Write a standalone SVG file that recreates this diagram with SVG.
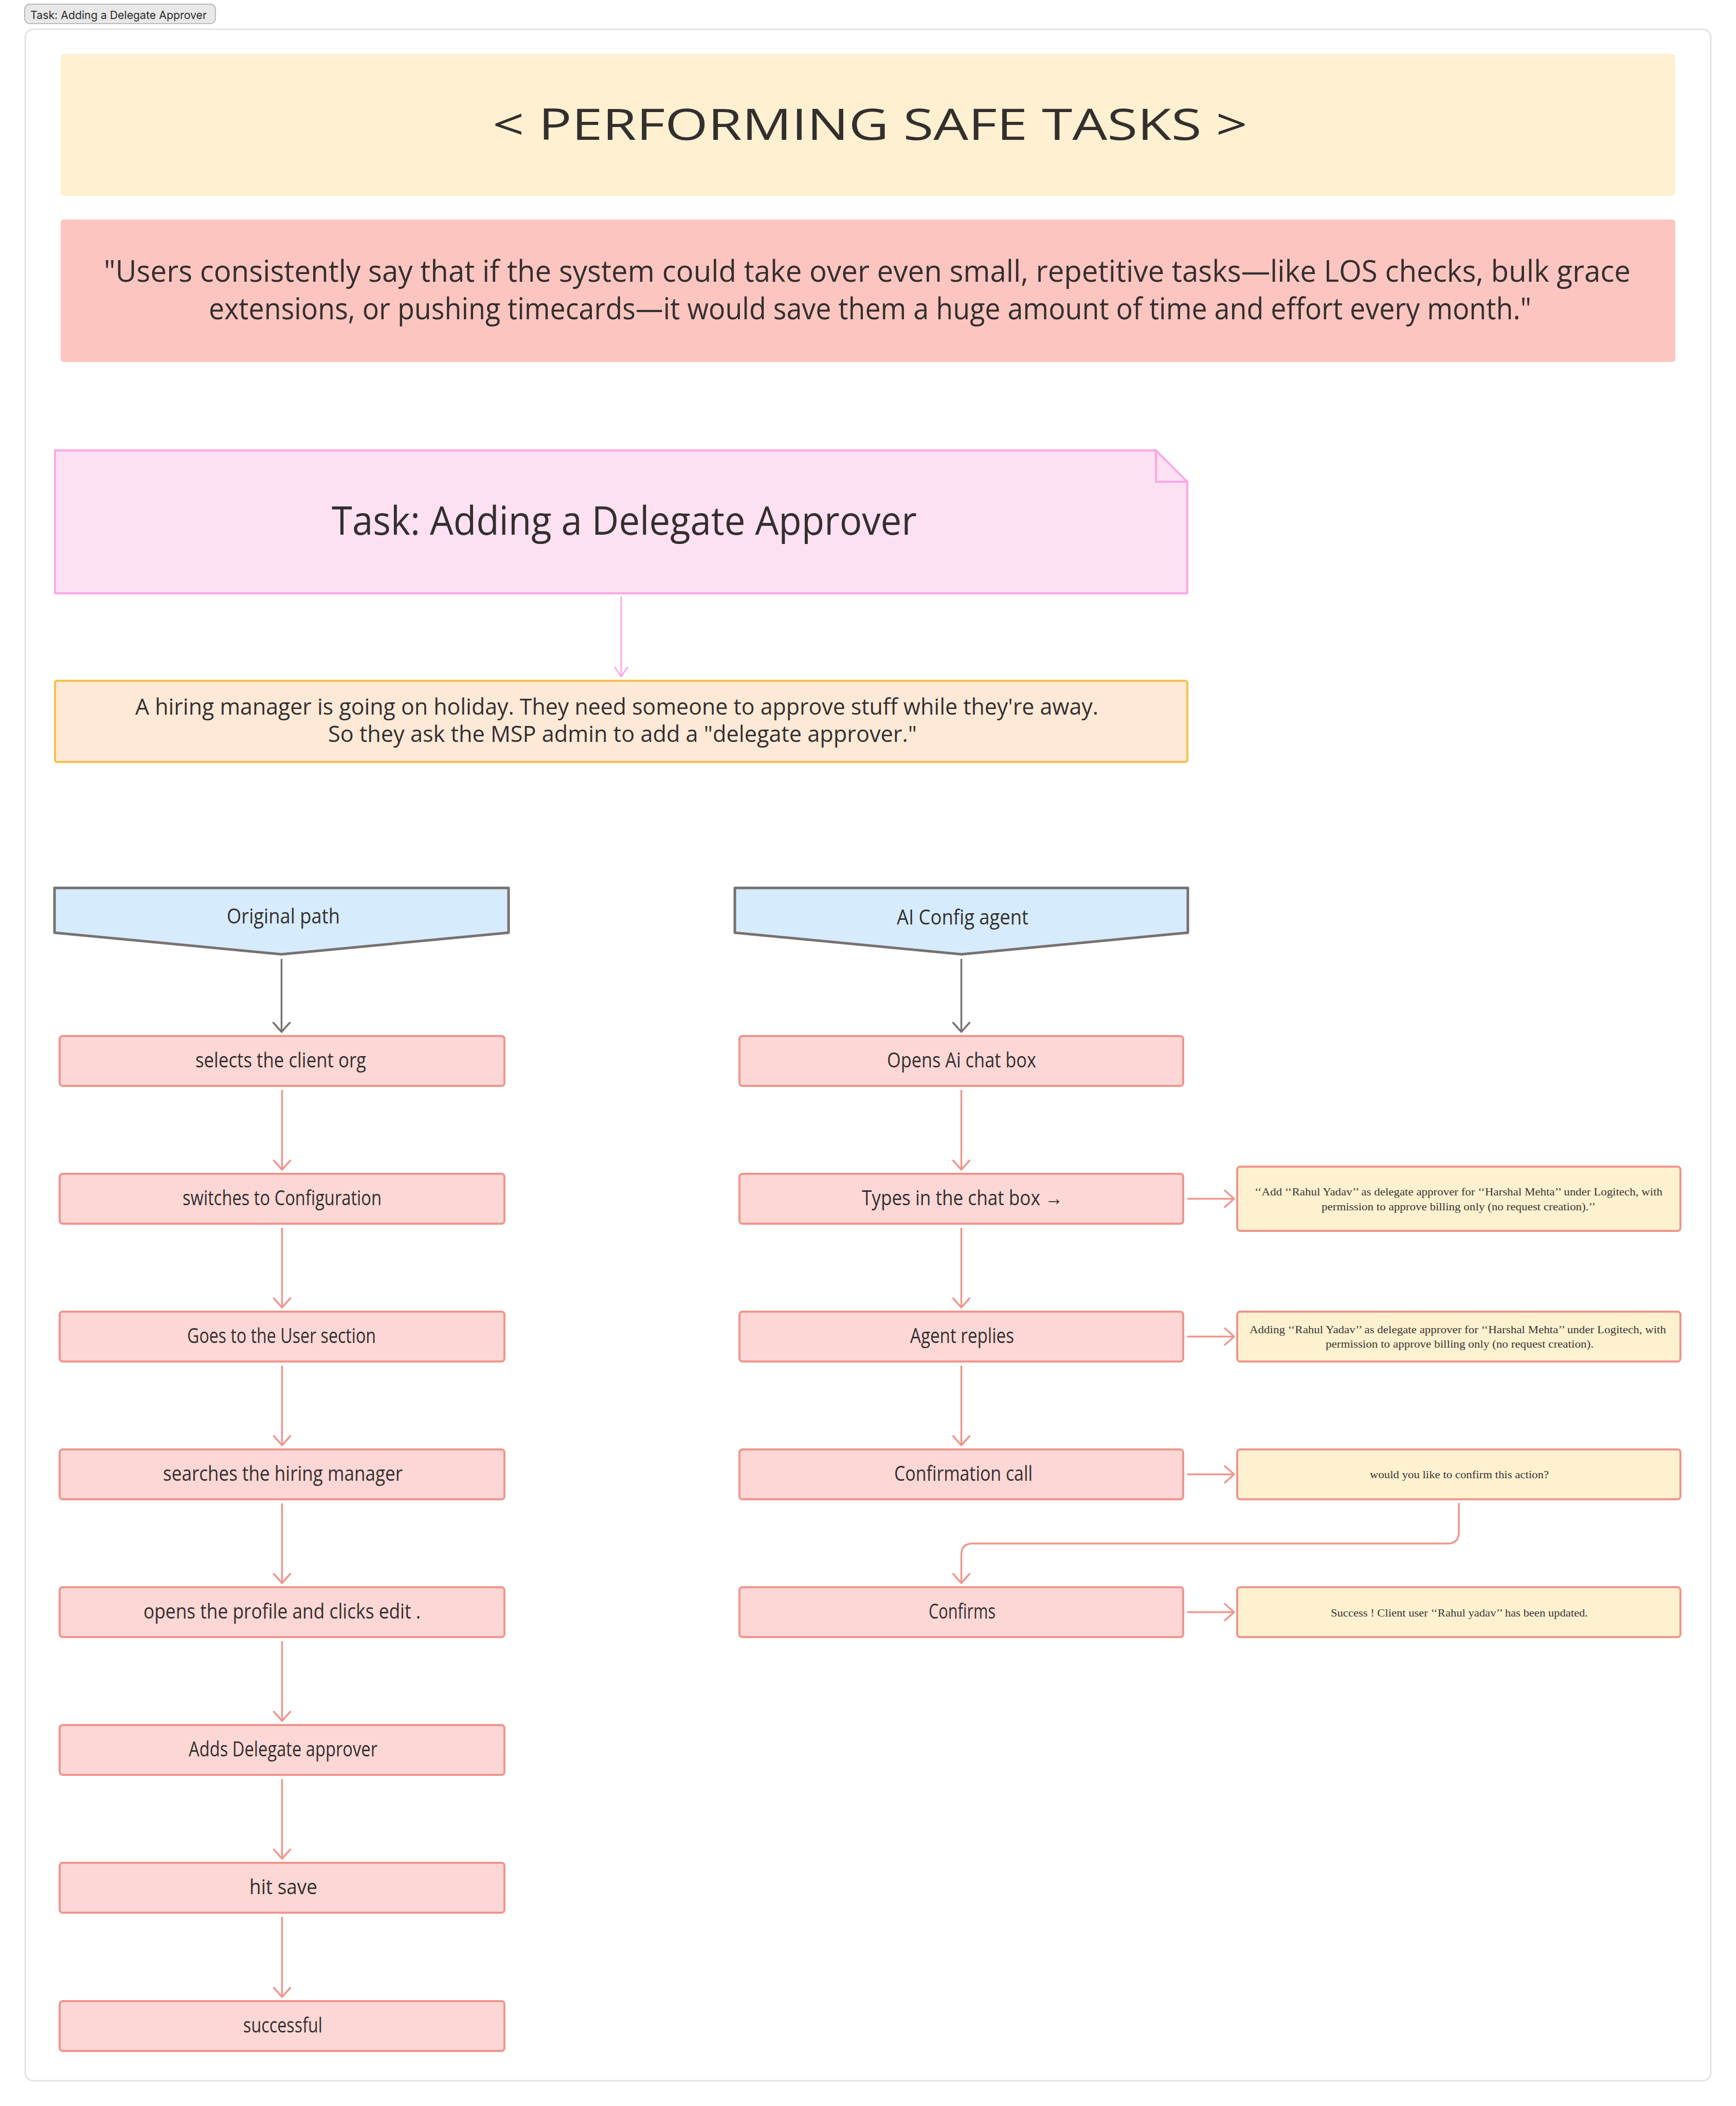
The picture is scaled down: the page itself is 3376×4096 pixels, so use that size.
<svg xmlns="http://www.w3.org/2000/svg" width="3376" height="4096" viewBox="0 0 3376 4096">
<style>
.hand{font-family:"Open Sans","Noto Sans",sans-serif;fill:#332f2e;}
.lbl{font-size:40px;}
.ser{font-family:"Liberation Serif","DejaVu Serif",serif;font-size:21px;fill:#3a3432;}
.step{fill:#fdd7d6;stroke:#ef958c;stroke-width:4;}
.det{fill:#fef1d0;stroke:#ef958c;stroke-width:4;}
.hdr{fill:#d6ebfd;stroke:#77716f;stroke-width:5;stroke-linejoin:round;}
.ca{fill:none;stroke:#ef958c;stroke-width:3.5;marker-end:url(#ma);}
.cg{fill:none;stroke:#77716f;stroke-width:3.5;marker-end:url(#mg);}
.cp{fill:none;stroke:#fba8e6;stroke-width:3;marker-end:url(#mp);}
</style>
<defs>
<marker id="ma" markerUnits="userSpaceOnUse" markerWidth="40" markerHeight="40" viewBox="-20 -20 40 40" refX="0" refY="0" orient="auto"><path d="M-18,-16 L0,0 L-18,16" fill="none" stroke="#ef958c" stroke-width="3.5" stroke-linecap="round" stroke-linejoin="round"/></marker>
<marker id="mg" markerUnits="userSpaceOnUse" markerWidth="40" markerHeight="40" viewBox="-20 -20 40 40" refX="0" refY="0" orient="auto"><path d="M-18,-16 L0,0 L-18,16" fill="none" stroke="#77716f" stroke-width="3.5" stroke-linecap="round" stroke-linejoin="round"/></marker>
<marker id="mp" markerUnits="userSpaceOnUse" markerWidth="40" markerHeight="40" viewBox="-20 -20 40 40" refX="0" refY="0" orient="auto"><path d="M-18,-12 L0,0 L-18,12" fill="none" stroke="#fba8e6" stroke-width="3" stroke-linecap="round" stroke-linejoin="round"/></marker>
</defs>
<rect width="3376" height="4096" fill="#ffffff"/>
<g id="frame">
<rect x="49" y="57" width="3278" height="3990" rx="16" fill="#ffffff" stroke="#e3e3e3" stroke-width="3"/>
</g>
<g id="tab">
<rect x="48" y="8" width="371" height="38" rx="10" fill="#e8e8e8" stroke="#a8a8a8" stroke-width="1.5"/>
<text x="59" y="37" font-family="Inter,'Liberation Sans',sans-serif" font-size="22" fill="#2e2a2a" textLength="343" lengthAdjust="spacingAndGlyphs">Task: Adding a Delegate Approver</text>
</g>
<g id="title">
<rect x="118" y="105" width="3140" height="276" rx="6" fill="#fef0d0"/>
<text class="hand" x="958" y="272" font-size="84" textLength="1468" lengthAdjust="spacingAndGlyphs">&lt; PERFORMING SAFE TASKS &gt;</text>
</g>
<g id="quote">
<rect x="118" y="427" width="3140" height="277" rx="6" fill="#fdc5c0"/>
<text class="hand" x="202" y="548" font-size="58" textLength="2969" lengthAdjust="spacingAndGlyphs">"Users consistently say that if the system could take over even small, repetitive tasks—like LOS checks, bulk grace</text>
<text class="hand" x="406" y="621" font-size="58" textLength="2572" lengthAdjust="spacingAndGlyphs">extensions, or pushing timecards—it would save them a huge amount of time and effort every month."</text>
</g>
<g id="task-note">
<path d="M107,876 H2248 L2309,937 V1154 H107 Z" fill="#fee0f3" stroke="#fba8e6" stroke-width="4" stroke-linejoin="round"/>
<path d="M2248,876 V937 H2309" fill="none" stroke="#fba8e6" stroke-width="4" stroke-linejoin="round"/>
<text class="hand" x="645" y="1040" font-size="76" textLength="1138" lengthAdjust="spacingAndGlyphs">Task: Adding a Delegate Approver</text>
</g>
<g id="scenario">
<rect x="107" y="1324" width="2202" height="158" rx="4" fill="#fee9d7" stroke="#f6c04f" stroke-width="4"/>
<text class="hand" x="263" y="1390" font-size="44" textLength="1873" lengthAdjust="spacingAndGlyphs">A hiring manager is going on holiday. They need someone to approve stuff while they're away.</text>
<text class="hand" x="638" y="1443" font-size="44" textLength="1145" lengthAdjust="spacingAndGlyphs">So they ask the MSP admin to add a "delegate approver."</text>
</g>
<g id="hdr-original">
<path class="hdr" d="M106,1727 H989 V1814 L547.5,1856 L106,1814 Z"/>
<text class="hand lbl" x="441" y="1796" textLength="220" lengthAdjust="spacingAndGlyphs">Original path</text>
</g>
<g id="hdr-ai">
<path class="hdr" d="M1429,1727 H2310 V1814 L1869.5,1856 L1429,1814 Z"/>
<text class="hand lbl" x="1744" y="1798" textLength="256" lengthAdjust="spacingAndGlyphs">AI Config agent</text>
</g>
<g id="l1"><rect class="step" x="116" y="2015" width="865" height="97" rx="6"/><text class="hand lbl" x="380" y="2076" textLength="332" lengthAdjust="spacingAndGlyphs">selects the client org</text></g>
<g id="l2"><rect class="step" x="116" y="2283" width="865" height="97" rx="6"/><text class="hand lbl" x="355" y="2344" textLength="387" lengthAdjust="spacingAndGlyphs">switches to Configuration</text></g>
<g id="l3"><rect class="step" x="116" y="2551" width="865" height="97" rx="6"/><text class="hand lbl" x="364" y="2612" textLength="367" lengthAdjust="spacingAndGlyphs">Goes to the User section</text></g>
<g id="l4"><rect class="step" x="116" y="2819" width="865" height="97" rx="6"/><text class="hand lbl" x="317" y="2880" textLength="466" lengthAdjust="spacingAndGlyphs">searches the hiring manager</text></g>
<g id="l5"><rect class="step" x="116" y="3087" width="865" height="97" rx="6"/><text class="hand lbl" x="279" y="3148" textLength="539" lengthAdjust="spacingAndGlyphs">opens the profile and clicks edit .</text></g>
<g id="l6"><rect class="step" x="116" y="3355" width="865" height="97" rx="6"/><text class="hand lbl" x="367" y="3416" textLength="367" lengthAdjust="spacingAndGlyphs">Adds Delegate approver</text></g>
<g id="l7"><rect class="step" x="116" y="3623" width="865" height="97" rx="6"/><text class="hand lbl" x="485" y="3684" textLength="132" lengthAdjust="spacingAndGlyphs">hit save</text></g>
<g id="l8"><rect class="step" x="116" y="3892" width="865" height="97" rx="6"/><text class="hand lbl" x="473" y="3953" textLength="154" lengthAdjust="spacingAndGlyphs">successful</text></g>
<g id="r1"><rect class="step" x="1438" y="2015" width="863" height="97" rx="6"/><text class="hand lbl" x="1725" y="2076" textLength="290" lengthAdjust="spacingAndGlyphs">Opens Ai chat box</text></g>
<g id="r2"><rect class="step" x="1438" y="2283" width="863" height="97" rx="6"/><text class="hand lbl" x="1676" y="2344" textLength="391" lengthAdjust="spacingAndGlyphs">Types in the chat box →</text></g>
<g id="r3"><rect class="step" x="1438" y="2551" width="863" height="97" rx="6"/><text class="hand lbl" x="1770" y="2612" textLength="202" lengthAdjust="spacingAndGlyphs">Agent replies</text></g>
<g id="r4"><rect class="step" x="1438" y="2819" width="863" height="97" rx="6"/><text class="hand lbl" x="1739" y="2880" textLength="269" lengthAdjust="spacingAndGlyphs">Confirmation call</text></g>
<g id="r5"><rect class="step" x="1438" y="3087" width="863" height="97" rx="6"/><text class="hand lbl" x="1806" y="3148" textLength="130" lengthAdjust="spacingAndGlyphs">Confirms</text></g>
<g id="d1"><rect class="det" x="2406" y="2269" width="862" height="125" rx="6"/>
<text class="ser" x="2440" y="2325" textLength="793" lengthAdjust="spacingAndGlyphs">‘‘Add ‘‘Rahul Yadav’’ as delegate approver for ‘‘Harshal Mehta’’ under Logitech, with</text>
<text class="ser" x="2570" y="2354" textLength="533" lengthAdjust="spacingAndGlyphs">permission to approve billing only (no request creation).’’</text></g>
<g id="d2"><rect class="det" x="2406" y="2551" width="862" height="97" rx="6"/>
<text class="ser" x="2430" y="2593" textLength="810" lengthAdjust="spacingAndGlyphs">Adding ‘‘Rahul Yadav’’ as delegate approver for ‘‘Harshal Mehta’’ under Logitech, with</text>
<text class="ser" x="2578" y="2621" textLength="521" lengthAdjust="spacingAndGlyphs">permission to approve billing only (no request creation).</text></g>
<g id="d3"><rect class="det" x="2406" y="2819" width="862" height="97" rx="6"/>
<text class="ser" x="2664" y="2875" textLength="348" lengthAdjust="spacingAndGlyphs">would you like to confirm this action?</text></g>
<g id="d4"><rect class="det" x="2406" y="3087" width="862" height="97" rx="6"/>
<text class="ser" x="2588" y="3144" textLength="500" lengthAdjust="spacingAndGlyphs">Success ! Client user ‘‘Rahul yadav’’ has been updated.</text></g>
<g id="connectors">
<path class="cp" d="M1208,1160 V1316"/>
<path class="cg" d="M547.5,1865 V2007"/>
<path class="cg" d="M1869.5,1865 V2007"/>
<path class="ca" d="M548.5,2120 V2275"/>
<path class="ca" d="M548.5,2388 V2543"/>
<path class="ca" d="M548.5,2656 V2811"/>
<path class="ca" d="M548.5,2924 V3079"/>
<path class="ca" d="M548.5,3192 V3347"/>
<path class="ca" d="M548.5,3460 V3615"/>
<path class="ca" d="M548.5,3728 V3884"/>
<path class="ca" d="M1869.5,2120 V2275"/>
<path class="ca" d="M1869.5,2388 V2543"/>
<path class="ca" d="M1869.5,2656 V2811"/>
<path class="ca" d="M2309,2331.5 H2400"/>
<path class="ca" d="M2309,2599.5 H2400"/>
<path class="ca" d="M2309,2867.5 H2400"/>
<path class="ca" d="M2309,3135.5 H2400"/>
<path class="ca" d="M2837,2923 V2980 Q2837,3002 2815,3002 H1891.5 Q1869.5,3002 1869.5,3024 V3079"/>
</g>
</svg>
